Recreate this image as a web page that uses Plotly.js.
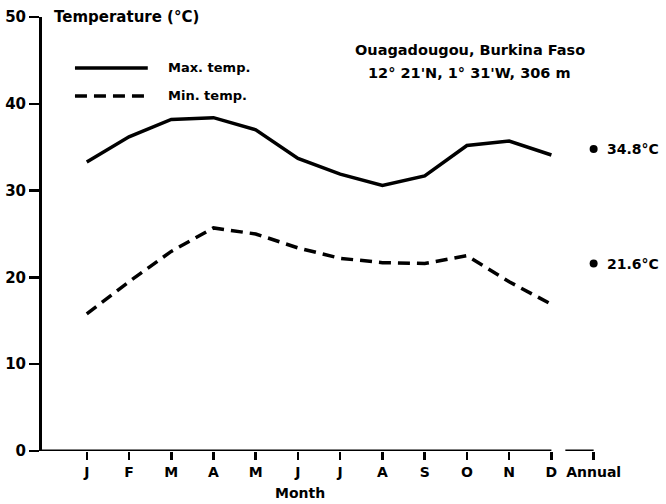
<!DOCTYPE html>
<html>
<head>
<meta charset="utf-8">
<script src="https://cdn.plot.ly/plotly-3.0.1.min.js"></script>
<style>html,body{margin:0;padding:0;background:#fff;}#chart{width:666px;height:504px;}</style>
</head>
<body>
<div id="chart"></div>
<script>
// ---- data ----
const months = ['J','F','M','A','M','J','J','A','S','O','N','D'];
const monthPos = [1,2,3,4,5,6,7,8,9,10,11,12];
const maxTemp = [33.3, 36.2, 38.2, 38.4, 37.0, 33.7, 31.9, 30.6, 31.7, 35.2, 35.7, 34.1];
const minTemp = [15.8, 19.5, 23.0, 25.7, 25.0, 23.4, 22.2, 21.7, 21.6, 22.5, 19.5, 16.9];
const annualLabel = 'Annual';
const annualPos = 13;
const annualValues = [34.8, 21.6];
const annualTexts = ['34.8°C', '21.6°C'];
const yTicks = [0, 10, 20, 30, 40, 50];

const FONT = 'DejaVu Sans, Liberation Sans, sans-serif';
const xRange = [-0.06, 14.5];

const traces = [
  {x: monthPos, y: maxTemp, type: 'scatter', mode: 'lines', name: 'Max. temp.',
   line: {color: '#000', width: 3.5}, showlegend: false, hoverinfo: 'skip'},
  {x: monthPos, y: minTemp, type: 'scatter', mode: 'lines', name: 'Min. temp.',
   line: {color: '#000', width: 3.5, dash: '12px,7px'}, showlegend: false, hoverinfo: 'skip'},
  {x: annualValues.map(() => annualPos), y: annualValues, type: 'scatter', mode: 'markers',
   marker: {color: '#000', size: 8}, showlegend: false, hoverinfo: 'skip', cliponaxis: false}
];

function bf(size) { return {family: FONT, size: size, weight: 'bold', color: '#000'}; }

const annotations = [
  {text: '<b>Temperature (°C)</b>', xref: 'paper', yref: 'paper', x: 0.016, y: 1.0,
   xanchor: 'left', yanchor: 'middle', showarrow: false, font: bf(15)},
  {text: '<b>Ouagadougou, Burkina Faso</b>', xref: 'paper', yref: 'paper', x: 0.6955, y: 0.924,
   xanchor: 'center', yanchor: 'middle', showarrow: false, font: bf(14.5)},
  {text: '<b>12° 21\'N, 1° 31\'W, 306 m</b>', xref: 'paper', yref: 'paper', x: 0.6955, y: 0.871,
   xanchor: 'center', yanchor: 'middle', showarrow: false, font: bf(14.5)},
  {text: '<b>Max. temp.</b>', xref: 'paper', yref: 'paper', x: 0.2015, y: 0.8825,
   xanchor: 'left', yanchor: 'middle', showarrow: false, font: bf(13)},
  {text: '<b>Min. temp.</b>', xref: 'paper', yref: 'paper', x: 0.2015, y: 0.818,
   xanchor: 'left', yanchor: 'middle', showarrow: false, font: bf(13)},
  {text: '<b>Month</b>', xref: 'x', yref: 'paper', x: 6.04, y: -0.097,
   xanchor: 'center', yanchor: 'middle', showarrow: false, font: bf(14)}
];
annualValues.forEach((v, i) => {
  annotations.push({text: '<b>' + annualTexts[i] + '</b>', xref: 'x', yref: 'y', x: annualPos + 0.27, y: v,
    xanchor: 'left', yanchor: 'middle', showarrow: false, font: bf(14)});
});

const shapes = [
  // x axis baseline (months)
  {type: 'line', xref: 'x', yref: 'y', x0: xRange[0], x1: 12, y0: 0, y1: 0,
   line: {color: '#000', width: 3}},
  // annual baseline segment
  {type: 'line', xref: 'x', yref: 'y', x0: 12.33, x1: annualPos, y0: 0, y1: 0,
   line: {color: '#000', width: 3}},
  // legend lines
  {type: 'line', xref: 'paper', yref: 'paper', x0: 0.0536, x1: 0.172, y0: 0.8825, y1: 0.8825,
   line: {color: '#000', width: 3.5}},
  {type: 'line', xref: 'paper', yref: 'paper', x0: 0.0536, x1: 0.172, y0: 0.818, y1: 0.818,
   line: {color: '#000', width: 3.5, dash: '12px,7px'}}
];

const layout = {
  width: 666, height: 504,
  margin: {l: 42, r: 9, t: 17, b: 53},
  paper_bgcolor: '#fff', plot_bgcolor: '#fff',
  showlegend: false,
  xaxis: {
    range: xRange, showgrid: false, zeroline: false, showline: false,
    tickmode: 'array', tickvals: monthPos.concat([annualPos]), ticktext: months.concat([annualLabel]),
    ticks: 'outside', ticklen: 8, tickwidth: 2.5, tickcolor: '#000',
    tickfont: bf(14)
  },
  yaxis: {
    range: [0, 50], showgrid: false, zeroline: false,
    showline: true, linecolor: '#000', linewidth: 3,
    tickmode: 'array', tickvals: yTicks, ticktext: yTicks.map(String),
    ticks: 'outside', ticklen: 10, tickwidth: 2.5, tickcolor: '#000',
    tickfont: bf(15)
  },
  annotations: annotations,
  shapes: shapes
};

Plotly.newPlot('chart', traces, layout, {staticPlot: true});
</script>
</body>
</html>
